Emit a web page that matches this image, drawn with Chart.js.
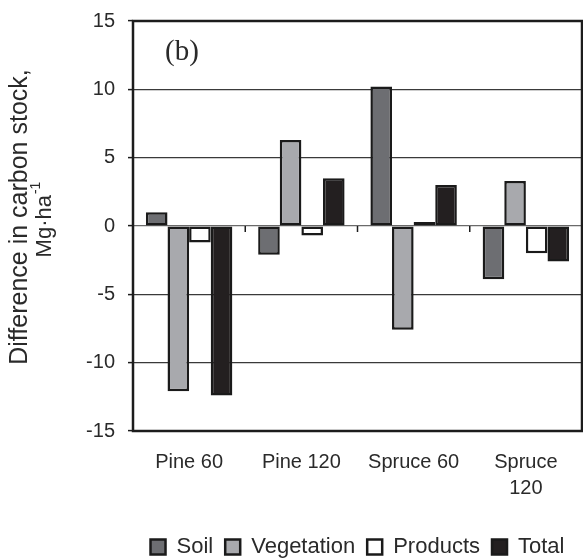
<!DOCTYPE html>
<html>
<head>
<meta charset="utf-8">
<script src="https://cdn.jsdelivr.net/npm/chart.js@4.4.1/dist/chart.umd.min.js"></script>
<style>
  html, body { margin: 0; padding: 0; background: #ffffff; }
  #wrap { width: 583px; height: 560px; position: relative; }
</style>
</head>
<body>
<div id="wrap"><canvas id="chart" width="583" height="560"></canvas></div>
<script>
// Stand types on the category axis
const categories = [['Pine 60'], ['Pine 120'], ['Spruce 60'], ['Spruce', '120']];

// Difference in carbon stock per component (Mg/ha)
const soil       = [1.0, -2.1, 10.2, -3.9];
const vegetation = [-12.1, 6.3, -7.6, 3.3];
const products   = [-1.2, -0.7, 0.3, -2.0];
const total      = [-12.4, 3.5, 3.0, -2.6];

// Value axis ticks
const yTicks = [-15, -10, -5, 0, 5, 10, 15];

const SANS = "'Liberation Sans', Arial, Helvetica, sans-serif";
const SERIF = "'Liberation Serif', 'Times New Roman', serif";
const INK = '#1c1c1c';

// Frame, category separators on the zero line, panel tag and axis title
const decorations = {
  id: 'decorations',
  afterDatasetsDraw(chart) {
    const { ctx, chartArea: a, scales } = chart;
    const x = scales.x, y = scales.y;
    ctx.save();
    // small tick marks between categories, hanging from the zero line
    const y0 = y.getPixelForValue(0);
    ctx.strokeStyle = INK;
    ctx.lineWidth = 1.5;
    for (let i = 0; i < categories.length - 1; i++) {
      const xb = (x.getPixelForValue(i) + x.getPixelForValue(i + 1)) / 2;
      ctx.beginPath();
      ctx.moveTo(xb, y0);
      ctx.lineTo(xb, y0 + 6);
      ctx.stroke();
    }
    // plot frame
    ctx.lineWidth = 2.5;
    ctx.strokeStyle = INK;
    ctx.strokeRect(a.left, a.top, a.right - a.left, a.bottom - a.top);
    // panel tag
    ctx.fillStyle = '#2a2a2a';
    ctx.font = '29px ' + SERIF;
    ctx.textAlign = 'center';
    ctx.textBaseline = 'middle';
    ctx.fillText('(b)', a.left + 49, a.top + 31);
    ctx.restore();
  },
  afterDraw(chart) {
    const { ctx, chartArea: a } = chart;
    const cy = (a.top + a.bottom) / 2 - 9;
    ctx.save();
    ctx.fillStyle = '#2a2a2a';
    ctx.textBaseline = 'middle';
    ctx.textAlign = 'center';
    // first line
    ctx.save();
    ctx.translate(20, cy);
    ctx.rotate(-Math.PI / 2);
    ctx.font = '25px ' + SANS;
    ctx.fillText('Difference in carbon stock,', 0, 0);
    ctx.restore();
    // second line with superscript
    ctx.save();
    ctx.translate(45, cy + 3);
    ctx.rotate(-Math.PI / 2);
    ctx.font = '22px ' + SANS;
    const base = 'Mg\u00b7ha';
    const wBase = ctx.measureText(base).width;
    ctx.font = '14px ' + SANS;
    const sup = '-1';
    const wSup = ctx.measureText(sup).width;
    const start = -(wBase + wSup) / 2;
    ctx.textAlign = 'left';
    ctx.font = '22px ' + SANS;
    ctx.fillText(base, start, 0);
    ctx.font = '14px ' + SANS;
    ctx.fillText(sup, start + wBase + 1, -9);
    ctx.restore();
    ctx.restore();
  }
};

const barBorder = '#1a1a1a';

new Chart(document.getElementById('chart'), {
  type: 'bar',
  data: {
    labels: categories,
    datasets: [
      { label: 'Soil', data: soil, backgroundColor: '#6d6e72' },
      { label: 'Vegetation', data: vegetation, backgroundColor: '#a8a9ad' },
      { label: 'Products', data: products, backgroundColor: '#ffffff' },
      { label: 'Total', data: total, backgroundColor: '#231f20' }
    ].map(d => Object.assign(d, {
      borderColor: barBorder,
      borderWidth: 2.5,
      borderSkipped: false,
      categoryPercentage: 0.77,
      barPercentage: 1.0
    }))
  },
  options: {
    responsive: false,
    devicePixelRatio: 1,
    animation: false,
    layout: { padding: { top: 20, right: 1, left: 0, bottom: -8 } },
    plugins: {
      tooltip: { enabled: false },
      title: { display: false },
      legend: {
        position: 'bottom',
        fullSize: false,
        labels: {
          color: '#2a2a2a',
          font: { family: SANS, size: 22 },
          boxWidth: 15,
          boxHeight: 15,
          padding: 12
        }
      }
    },
    scales: {
      x: {
        grid: { display: false, drawTicks: false },
        border: { display: false },
        ticks: {
          color: '#2a2a2a',
          font: { family: SANS, size: 20, lineHeight: 1.3 },
          padding: 18,
          maxRotation: 0,
          autoSkip: false
        },
        afterFit(scale) { scale.height = 93; }
      },
      y: {
        min: -15,
        max: 15,
        afterBuildTicks(scale) { scale.ticks = yTicks.map(v => ({ value: v })); },
        grid: {
          color: ctx => (ctx.tick && ctx.tick.value === 0 ? '#6a6a6a' : '#3a3a3a'),
          lineWidth: 1.2,
          drawTicks: true,
          tickLength: 5,
          tickColor: INK,
          tickWidth: 1.5
        },
        border: { display: false },
        ticks: {
          color: '#2a2a2a',
          font: { family: SANS, size: 20, lineHeight: 0.8 },
          padding: 13
        },
        afterFit(scale) { scale.width = 133; }
      }
    }
  },
  plugins: [decorations]
});
</script>
</body>
</html>
